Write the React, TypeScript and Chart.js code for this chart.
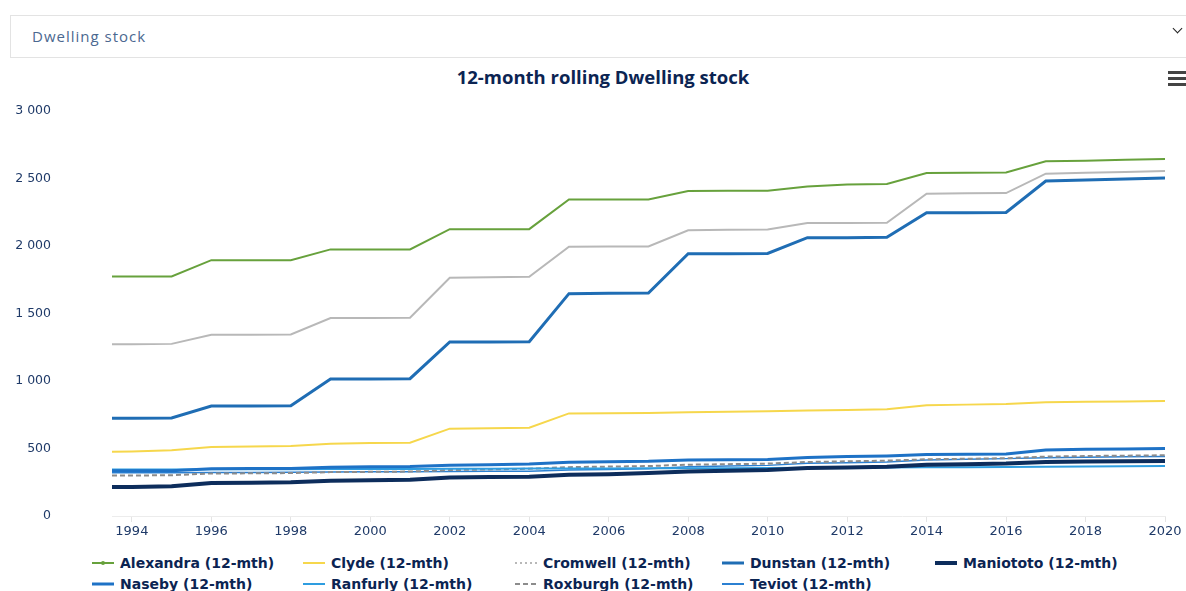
import React, { useEffect, useRef } from "react";
import { Chart, registerables } from "chart.js";

Chart.register(...registerables);

const years = [1993.5, 1994, 1995, 1996, 1997, 1998, 1999, 2000, 2001, 2002, 2003, 2004, 2005, 2006, 2007, 2008, 2009, 2010, 2011, 2012, 2013, 2014, 2015, 2016, 2017, 2018, 2019, 2020];
const tickYears = [1994, 1996, 1998, 2000, 2002, 2004, 2006, 2008, 2010, 2012, 2014, 2016, 2018, 2020];
const yTickValues = [0, 500, 1000, 1500, 2000, 2500, 3000];

const alexandra = [1775, 1775, 1775, 1895, 1895, 1895, 1975, 1975, 1975, 2125, 2125, 2125, 2345, 2345, 2345, 2407, 2410, 2410, 2440, 2455, 2460, 2540, 2543, 2545, 2627, 2632, 2638, 2645];
const clyde = [475, 477, 487, 511, 515, 518, 536, 540, 543, 647, 650, 654, 760, 762, 763, 768, 772, 776, 782, 786, 790, 820, 825, 830, 842, 846, 849, 852];
const cromwell = [1272, 1272, 1275, 1343, 1343, 1345, 1467, 1467, 1468, 1765, 1768, 1772, 1995, 1996, 1997, 2116, 2120, 2123, 2170, 2170, 2172, 2387, 2390, 2392, 2536, 2542, 2548, 2555];
const dunstan = [724, 724, 726, 815, 815, 817, 1015, 1015, 1017, 1289, 1289, 1291, 1647, 1650, 1652, 1943, 1943, 1945, 2062, 2062, 2064, 2247, 2247, 2249, 2481, 2488, 2496, 2504];
const maniototo = [215, 215, 220, 245, 247, 250, 262, 265, 268, 285, 288, 290, 305, 310, 318, 330, 335, 340, 355, 360, 365, 380, 384, 388, 400, 403, 406, 408];
const naseby = [335, 335, 336, 350, 351, 352, 362, 364, 366, 376, 380, 385, 398, 402, 405, 415, 417, 418, 433, 440, 445, 455, 458, 460, 488, 494, 497, 500];
const ranfurly = [345, 345, 345, 346, 346, 347, 348, 348, 349, 350, 350, 351, 352, 352, 353, 354, 354, 355, 357, 358, 359, 361, 362, 363, 365, 367, 368, 370];
const roxburgh = [300, 300, 302, 315, 316, 318, 325, 327, 329, 340, 345, 350, 362, 366, 370, 380, 384, 388, 400, 405, 410, 420, 424, 428, 440, 444, 447, 450];
const teviot = [320, 320, 321, 322, 323, 324, 326, 327, 328, 330, 331, 332, 340, 345, 350, 365, 370, 375, 390, 395, 400, 415, 420, 425, 432, 436, 438, 440];

const seriesNames = [
  "Alexandra (12-mth)",
  "Clyde (12-mth)",
  "Cromwell (12-mth)",
  "Dunstan (12-mth)",
  "Maniototo (12-mth)",
  "Naseby (12-mth)",
  "Ranfurly (12-mth)",
  "Roxburgh (12-mth)",
  "Teviot (12-mth)",
];
const seriesValues = [alexandra, clyde, cromwell, dunstan, maniototo, naseby, ranfurly, roxburgh, teviot];
const seriesColors = ["#67a13c", "#f6d74c", "#b8b8b8", "#1f6db4", "#0d2d5c", "#1e72c6", "#2e9de0", "#8c8c8c", "#2b80d2"];
const seriesWidths = [2, 2, 2, 3, 4, 3, 2, 2, 1.5];
const seriesDash: number[][] = [[], [], [], [], [], [], [], [5, 3], []];
const legendDash = ["", "", "2,3", "", "", "", "", "5,3", ""];

const FONT = "'Open Sans', 'DejaVu Sans', sans-serif";
const TICKFONT = "'DejaVu Sans', sans-serif";
const NAVY = "#0b2452";

function fmt(v: number) {
  const s = String(Math.round(v));
  return s.replace(/\B(?=(\d{3})+(?!\d))/g, " ");
}

export default function App() {
  const ref = useRef<HTMLCanvasElement>(null);

  useEffect(() => {
    if (!ref.current) return;
    const datasets = seriesNames.map((name, i) => ({
      label: name,
      data: years.map((x, j) => ({ x, y: seriesValues[i][j] })),
      borderColor: seriesColors[i],
      backgroundColor: seriesColors[i],
      borderWidth: seriesWidths[i],
      borderDash: seriesDash[i],
      pointRadius: 0,
      tension: 0,
      fill: false,
    }));
    const chart = new Chart(ref.current, {
      type: "line",
      data: { datasets },
      options: {
        animation: false,
        responsive: false,
        maintainAspectRatio: false,
        layout: { padding: { top: 14, right: 21, left: 0, bottom: 0 } },
        plugins: {
          legend: { display: false },
          title: { display: false },
          tooltip: { enabled: false },
        },
        scales: {
          x: {
            type: "linear",
            min: 1993.5,
            max: 2020,
            afterBuildTicks: (scale: any) => {
              scale.ticks = tickYears.map((v) => ({ value: v }));
            },
            afterFit: (scale: any) => {
              scale.height = 31;
            },
            grid: {
              display: true,
              drawOnChartArea: false,
              drawTicks: true,
              tickLength: 6,
              color: "#e4e4e4",
            },
            border: { display: true, color: "#ececec" },
            ticks: {
              autoSkip: false,
              maxRotation: 0,
              padding: 2,
              color: "#1f3a68",
              font: { family: TICKFONT, size: 13 },
              callback: (v: any) => String(v),
            },
          },
          y: {
            type: "linear",
            min: 0,
            max: 3000,
            afterBuildTicks: (scale: any) => {
              scale.ticks = yTickValues.map((v) => ({ value: v }));
            },
            afterFit: (scale: any) => {
              scale.width = 112;
              scale.paddingTop = 0;
              scale.paddingBottom = 0;
            },
            grid: { display: false, drawTicks: false },
            border: { display: false },
            ticks: {
              padding: 61,
              color: "#1f3a68",
              font: { family: TICKFONT, size: 12.5 },
              callback: (v: any) => fmt(Number(v)),
            },
          },
        },
      },
    });
    return () => chart.destroy();
  }, []);

  const colLeft = [92, 303, 515, 722, 935];

  return (
    <div style={{ position: "absolute", left: 0, top: 0, width: 1186, height: 591, overflow: "hidden", background: "#fff", fontFamily: FONT }}>
      <div
        style={{
          position: "absolute",
          left: 10,
          top: 15,
          width: 1190,
          height: 43,
          border: "1px solid #e3e3e3",
          boxSizing: "border-box",
        }}
      />
      <div style={{ position: "absolute", left: 32, top: 26, fontSize: 15, letterSpacing: 1, color: "#4b6890", whiteSpace: "nowrap" }}>
        Dwelling stock
      </div>
      <div
        style={{
          position: "absolute",
          left: 1174,
          top: 25,
          width: 6,
          height: 6,
          borderRight: "1.5px solid #222",
          borderBottom: "1.5px solid #222",
          transform: "rotate(45deg)",
        }}
      />
      <div
        style={{
          position: "absolute",
          left: 0,
          width: 1206,
          top: 64,
          textAlign: "center",
          fontSize: 18.5,
          fontWeight: 700,
          color: NAVY,
          whiteSpace: "nowrap",
        }}
      >
        12-month rolling Dwelling stock
      </div>
      {[71, 77, 83].map((t) => (
        <div key={t} style={{ position: "absolute", left: 1168, top: t, width: 18, height: 3, background: "#444" }} />
      ))}
      <canvas ref={ref} width={1186} height={450} style={{ position: "absolute", left: 0, top: 97, width: 1186, height: 450 }} />
      {seriesNames.map((name, i) => {
        const row = i < 5 ? 0 : 1;
        const col = i < 5 ? i : i - 5;
        const top = row === 0 ? 554 : 575;
        return (
          <div
            key={name}
            style={{ position: "absolute", left: colLeft[col], top, height: 18, display: "flex", alignItems: "center", whiteSpace: "nowrap" }}
          >
            <svg width={24} height={10} style={{ marginRight: 4 }}>
              <line
                x1={0}
                y1={5}
                x2={22}
                y2={5}
                stroke={seriesColors[i]}
                strokeWidth={Math.max(2, seriesWidths[i])}
                strokeDasharray={legendDash[i] || undefined}
              />
              {i === 0 ? <circle cx={11} cy={5} r={2} fill={seriesColors[i]} /> : null}
            </svg>
            <span style={{ fontSize: 14, fontWeight: 700, color: NAVY, fontFamily: TICKFONT }}>{name}</span>
          </div>
        );
      })}
    </div>
  );
}
